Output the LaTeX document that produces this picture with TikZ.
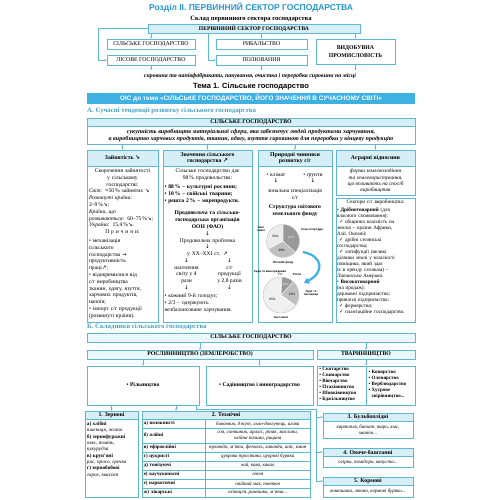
\documentclass[tikz,border=0pt]{standalone}
\usepackage{fontspec}
\setmainfont{Liberation Serif}
\setsansfont{Liberation Sans}
\newfontfamily\sym{DejaVu Sans}
\usetikzlibrary{positioning,arrows.meta}
\definecolor{bord}{RGB}{95,184,210}
\definecolor{hfill}{RGB}{214,239,247}
\definecolor{ttl}{RGB}{38,150,210}
\definecolor{bar}{RGB}{62,176,226}
\definecolor{sect}{RGB}{70,160,190}
\newcommand\tx{\fontsize{5.6}{6.8}\selectfont}
\newcommand\sm{\fontsize{5}{6}\selectfont}
\newcommand\arD{{\sym ↓}}
\newcommand\arSE{{\sym ↘}}
\newcommand\arNE{{\sym ↗}}
\newcommand\arR{{\sym →}}
\newcommand\chk{{\sym ✓}}
\newcommand\bul{\par\hangindent=4pt\hangafter=1\noindent\textbullet\ }
\newcommand\ckl{\par\hangindent=7pt\hangafter=1\noindent\hspace*{2pt}\chk\ }
\tikzset{
  box/.style={draw=bord, line width=0.5pt, inner sep=0pt},
  hd/.style={box, fill=hfill, font=\fontsize{5.8}{6.6}\selectfont\bfseries, align=center},
  rb/.style={box, fill=white, font=\fontsize{5.8}{6.4}\selectfont, minimum width=88pt, minimum height=10pt},
  arr/.style={draw=bord, line width=0.5pt, -{Stealth[length=2.2pt,width=2pt]}},
  txt/.style={inner sep=0.5pt, font=\tx, align=left},
  pct/.style={inner sep=0pt, font=\sffamily\fontsize{3.2}{3.6}\selectfont},
  plab/.style={inner sep=0pt, font=\sffamily\bfseries\fontsize{2.9}{3.3}\selectfont, align=center},
}
\begin{document}
\begin{tikzpicture}[x=1pt,y=-1pt]
\useasboundingbox[fill=white] (0,0) rectangle (500,500);
% склад первинного сектора
\node[font=\sffamily\bfseries\fontsize{8.5}{9}\selectfont, text=ttl] (ttl) at (251,8) {Розділ II. ПЕРВИННИЙ СЕКТОР ГОСПОДАРСТВА};
\node[font=\bfseries\fontsize{6.6}{7}\selectfont] (sklad) at (251,19) {Склад первинного сектора господарства};
\node[hd, font=\bfseries\fontsize{5.6}{6}\selectfont, minimum width=212pt, minimum height=9pt] (psg) at (254,28.5) {ПЕРВИННИЙ СЕКТОР ГОСПОДАРСТВА};
\node[rb] (sg) at (151,44) {СІЛЬСЬКЕ ГОСПОДАРСТВО};
\node[rb, minimum width=91pt] (ryb) at (261.5,44) {РИБАЛЬСТВО};
\node[rb, minimum width=79pt, minimum height=25pt, font=\bfseries\fontsize{5.8}{7.4}\selectfont, align=center] (vyd) at (355.5,51.5) {ВИДОБУВНА\\ПРОМИСЛОВІСТЬ};
\node[rb] (lis) at (151,60) {ЛІСОВЕ ГОСПОДАРСТВО};
\node[rb, minimum width=91pt] (pol) at (261.5,60) {ПОЛЮВАННЯ};
\draw[arr] (psg.south -| sg.north) -- (sg.north);
\draw[arr] (psg.south -| ryb.north) -- (ryb.north);
\draw[arr] (psg.south -| vyd.north) -- (vyd.north);
\draw[arr] (psg.west) -- ++(-50,0) |- (lis.west);
\draw[arr] ([xshift=-46pt]psg.south) |- (pol.west);
\node[font=\bfseries\itshape\fontsize{5.9}{6}\selectfont] (raw) at (250,76.5) {сировина та напівфабрикати, пакування, очистка і переробка сировини на місці};
\draw[arr] (lis.south) -- (lis.south |- raw.north);
\draw[arr] (pol.south) -- (pol.south |- raw.north);
\draw[arr] (vyd.south) -- (vyd.south |- raw.north);
\node[font=\sffamily\bfseries\fontsize{7.5}{8}\selectfont] (tema) at (251,86.5) {Тема 1. Сільське господарство};
\node[fill=bar, minimum width=328pt, minimum height=11pt, inner sep=0pt, text=white, font=\sffamily\bfseries\fontsize{6.4}{7}\selectfont] (ois) at (251,98.5) {ОІС до теми «СІЛЬСЬКЕ ГОСПОДАРСТВО, ЙОГО ЗНАЧЕННЯ В СУЧАСНОМУ СВІТІ»};
% А. тенденції
\node[anchor=west, inner sep=0pt, text=sect, font=\bfseries\fontsize{6.8}{7}\selectfont] (secA) at (87,111) {А. Сучасні тенденції розвитку сільського господарства};
\node[hd, minimum width=328pt, minimum height=8pt] (sgA) at (251,122) {СІЛЬСЬКЕ ГОСПОДАРСТВО};
\node[box, minimum width=328pt, minimum height=18pt, anchor=north, font=\bfseries\itshape\fontsize{6.1}{7.2}\selectfont, align=center] (def) at (sgA.south) {сукупність виробництв матеріальної сфери, яка забезпечує людей продуктами харчування,\\а виробництво харчових продуктів, тканин, одягу, взуття сировиною для переробки у кінцеву продукцію};
\node[hd, minimum width=71pt, minimum height=16pt] (c1h) at (122.5,158) {Зайнятість \arSE};
\node[hd, minimum width=89pt, minimum height=16pt] (c2h) at (207.5,158) {Значення сільського\\господарства \arNE};
\node[hd, minimum width=74pt, minimum height=16pt] (c3h) at (295,158) {Природні чинники\\розвитку с/г};
\node[hd, minimum width=79pt, minimum height=16pt] (c4h) at (375.5,158) {Аграрні відносини};
\foreach \c in {c1h,c2h,c3h,c4h}
  \draw[arr] (def.south -| \c.north) -- (\c.north);
\node[box, minimum width=71pt, minimum height=156pt, anchor=north] (c1b) at (c1h.south) {};
\node[box, minimum width=89pt, minimum height=156pt, anchor=north] (c2b) at (c2h.south) {};
\node[box, minimum width=74pt, minimum height=156pt, anchor=north] (c3b) at (c3h.south) {};
\node[box, minimum width=79pt, minimum height=29pt, anchor=north, font=\itshape\fontsize{5.4}{6.4}\selectfont, align=center] (c4d) at (c4h.south) {форми землеволодіння\\та землекористування,\\що впливають на спосіб\\виробництва};
\node[box, minimum width=79pt, minimum height=124pt, anchor=north] (c4b) at ([yshift=-2pt]c4d.south) {};
% зайнятість
\node[txt, text width=67pt, align=center, anchor=north] (c1x1) at ([yshift=-2pt]c1b.north) {Скорочення зайнятості\\у сільському\\господарстві:};
\node[txt, text width=67pt, below=0pt of c1x1] (c1x2) {\textit{Світ:} ≈50\,\% зайнятих \arSE\\\textit{Розвинуті країни:}\\2–9\,\%\arSE;\\\textit{Країни, що}\\\textit{розвиваються:} 60–75\,\%\arSE;\\\textit{Україна:} 15,4\,\%\arSE.};
\node[txt, text width=67pt, align=center, below=0pt of c1x2] (c1x3) {П р и ч и н и:};
\node[txt, text width=67pt, below=0pt of c1x3] (c1x4) {\bul механізація\\сільського\\господарства \arR\\продуктивність\\праці\arNE;\bul відокремилися від\\с/г виробництва\\тканин, одягу, взуття,\\харчових продуктів,\\напоїв;\bul імпорт с/г продукції\\(розвинуті країни).};
% значення
\node[txt, text width=86pt, align=center, anchor=north] (c2x1) at ([yshift=-2pt]c2b.north) {Сільське господарство дає\\98\,\% продовольства:};
\node[txt, text width=86pt, below=0pt of c2x1, font=\tx\bfseries] (c2x2) {\bul 88\,\% – культурні рослини;\bul 10\,\% – свійські тварини;\bul решта 2\,\% – морепродукти.};
\node[txt, text width=86pt, align=center, below=6pt of c2x2, font=\tx\bfseries] (c2x3) {Продовольча та сільсько-\\господарська організація\\ООН (ФАО)};
\node[txt, text width=86pt, align=center, below=0pt of c2x3] (c2x4) {\arD\\Продовольча проблема\\\arD\\у XX–XXI ст. \arNE};
\node[txt, align=center, anchor=north] (c2x5) at ([xshift=-21pt]c2x4.south) {\arD\\населення\\світу у 4\\рази\\\arD};
\node[txt, align=center, anchor=north] (c2x6) at ([xshift=22pt]c2x4.south) {\arD\\с/г\\продукції\\у 2,8 разів\\\arD};
\node[txt, text width=86pt, anchor=north] (c2x7) at (c2x4.south |- c2x5.south) {\bul кожний 9-й голодує;\bul 2/3 – одержують\\незбалансоване харчування.};
% природні чинники
\node[txt] (kl) at (276,175) {\textbullet\ клімат};
\node[txt] (gr) at (313,175) {\textbullet\ ґрунти};
\node[txt, below=0pt of kl] (kla) {\arD};
\node[txt, below=0pt of gr] (gra) {\arD};
\node[txt, align=center] (zon) at (295,194) {зональна спеціалізація\\с/г};
\node[txt, align=center, font=\tx\bfseries] (str) at (295,211) {Структура світового\\земельного фонду};
\begin{scope}[shift={(283,241)}, y=1pt]
  \fill[gray!80, draw=white, line width=0.3pt] (0,0) -- (90:16.5) arc[start angle=90, end angle=-43.2, radius=16.5] -- cycle;
  \fill[gray!50, draw=white, line width=0.3pt] (0,0) -- (-43.2:16.5) arc[start angle=-43.2, end angle=-151.2, radius=16.5] -- cycle;
  \fill[gray!15, draw=white, line width=0.3pt] (0,0) -- (-151.2:16.5) arc[start angle=-151.2, end angle=-270, radius=16.5] -- cycle;
  \draw[gray!60, line width=0.3pt] (0,0) circle (16.5);
  \node[pct, text=white] (p1a) at (23.4:9) {37\%};
  \node[pct] (p1b) at (-97.2:9.5) {30\%};
  \node[pct] (p1c) at (149.4:9) {33\%};
  \node[plab] (l1a) at (-22,12) {Інші\\землі};
  \node[plab] (l1b) at (29,11) {Сільгоспугіддя};
  \node[plab] (l1c) at (0,-21.5) {Лісовий фонд};
  \coordinate (pa) at (20,-11);
\end{scope}
\begin{scope}[shift={(281,295)}, y=1pt]
  \fill[gray!30, draw=white, line width=0.3pt] (0,0) -- (90:18) arc[start angle=90, end angle=86.4, radius=18] -- cycle;
  \fill[gray!80, draw=white, line width=0.3pt] (0,0) -- (86.4:18) arc[start angle=86.4, end angle=46.8, radius=18] -- cycle;
  \fill[gray!50, draw=white, line width=0.3pt] (0,0) -- (46.8:18) arc[start angle=46.8, end angle=-36, radius=18] -- cycle;
  \fill[gray!12, draw=white, line width=0.3pt] (0,0) -- (-36:18) arc[start angle=-36, end angle=-270, radius=18] -- cycle;
  \draw[gray!60, line width=0.3pt] (0,0) circle (18);
  \node[pct, text=white] (p2a) at (66:11.5) {11\%};
  \node[pct] (p2b) at (5:11) {23\%};
  \node[pct] (p2c) at (-153:9.5) {65\%};
  \node[pct] (p2d) at (92:21) {1\%};
  \node[plab] (l2a) at (-11,23) {Сади та виноградники};
  \node[plab] (l2b) at (16,21) {Рілля};
  \node[plab] (l2c) at (30,2) {Луки та\\пасовища};
  \node[plab] (l2d) at (0,-22) {Інші землі};
  \coordinate (pb) at (23,12);
\end{scope}
\draw[line width=2.2pt, bar, -{Triangle[length=5pt,width=6.5pt]}] (pa) .. controls (323,256) and (325,272) .. (pb);
% аграрні відносини
\node[txt, text width=77pt, align=center, anchor=north, font=\fontsize{5.2}{6}\selectfont] (c4x1) at ([yshift=-1.2pt]c4b.north) {Сектори с/г виробництва:};
\node[txt, text width=77pt, below=0pt of c4x1, font=\fontsize{5.2}{6}\selectfont] (c4x2) {\bul \textbf{Дрібнотоварний} (для\\власного споживання):\ckl общинна власність на\\землю – країни Африки,\\Азії, Океанії;\ckl дрібні селянські\\господарства;\ckl латифундії (великі\\ділянки землі у власності\\поміщика, який здає\\їх в оренду селянам) –\\\textit{Латинська Америка.}\bul \textbf{Високотоварний}\\(на продаж):\par\noindent державні підприємства;\\приватні підприємства:\ckl фермерство;\ckl плантаційне господарство.};
% Б. складники
\node[anchor=west, inner sep=0pt, text=sect, font=\bfseries\fontsize{6.8}{7}\selectfont] (secB) at (87,327) {Б. Складники сільського господарства};
\node[hd, fill=hfill!50, minimum width=328pt, minimum height=9pt] (sgB) at (251,337.5) {СІЛЬСЬКЕ ГОСПОДАРСТВО};
\node[hd, fill=hfill!50, minimum width=226pt, minimum height=9pt] (rosl) at (200,354.5) {РОСЛИННИЦТВО (ЗЕМЛЕРОБСТВО)};
\node[hd, fill=hfill!50, minimum width=98pt, minimum height=9pt] (tvar) at (366,354.5) {ТВАРИННИЦТВО};
\draw[arr] (sgB.south -| rosl.north) -- (rosl.north);
\draw[arr] (sgB.south -| tvar.north) -- (tvar.north);
\node[box, minimum width=112pt, minimum height=39pt, font=\tx\bfseries] (ril) at (143,385.5) {\textbullet\ Рільництво};
\node[box, minimum width=107pt, minimum height=39pt, font=\tx\bfseries] (sad) at (259.5,385.5) {\textbullet\ Садівництво і виноградарство};
\node[box, minimum width=98pt, minimum height=39pt] (tvb) at (366,385.5) {};
\draw[bord, line width=0.5pt] (tvb.north) -- (tvb.south);
\node[txt, anchor=north west, font=\fontsize{5}{6}\selectfont\bfseries] (tvl1) at ([xshift=2pt,yshift=-1.2pt]tvb.north west) {\textbullet\ Скотарство\\\textbullet\ Свинарство\\\textbullet\ Вівчарство\\\textbullet\ Птахівництво\\\textbullet\ Шовківництво\\\textbullet\ Бджільництво};
\node[txt, anchor=north west, font=\fontsize{5}{6}\selectfont\bfseries] (tvl2) at ([xshift=2pt,yshift=-4pt]tvb.north) {\textbullet\ Конярство\\\textbullet\ Оленярство\\\textbullet\ Верблюдарство\\\textbullet\ Хутрове\\\phantom{\textbullet\ }звірівництво...};
\draw[arr] (rosl.south -| ril.north) -- (ril.north);
\draw[arr] (rosl.south -| sad.north) -- (sad.north);
\draw[arr] (tvar.south) -- (tvb.north);
% групи культур
\node[hd, minimum width=53pt, minimum height=8pt] (zh) at (111.5,415) {1. Зернові};
\node[box, minimum width=53pt, minimum height=78pt, anchor=north] (zb) at (zh.south) {};
\node[txt, anchor=north west, font=\fontsize{5.2}{6.3}\selectfont] (zx) at ([xshift=1.5pt,yshift=-2pt]zb.north west) {\textbf{а) хлібні}\\\textit{пшениця, жито}\\\textbf{б) зернофуражні}\\\textit{овес, ячмінь,}\\\textit{кукурудза}\\\textbf{в) круп'яні}\\\textit{рис, просо, гречка}\\\textbf{г) зернобобові}\\\textit{горох, квасоля}};
\node[hd, minimum width=168pt, minimum height=8pt] (th) at (226,415) {2. Технічні};
\foreach \i/\ya/\h/\lt/\rt in {
  1/419/9/а) волокнисті/{бавовник, джут, льон-довгунець, агава},
  2/428/14.5/б) олійні/{соя, соняшник, арахіс, ріпак, маслини,\\олійна пальма, рицина},
  3/442.5/9.1/в) ефіроолійні/{троянда, м'ята, фенхель, лаванда, аніс, кмин},
  4/451.6/9.1/г) цукристі/{цукрова тростина, цукрові буряки},
  5/460.7/9.1/д) тонізуючі/{чай, кава, какао},
  6/469.8/9.1/е) каучуконосні/{гевея},
  7/478.9/9.1/є) наркотичні/{опійний мак, тютюн},
  8/488/9/ж) лікарські/{ехінацея, ромашка, м'ята...}} {
  \node[box, anchor=north west, minimum width=63pt, minimum height=\h pt, text width=60pt, align=left, font=\sm\bfseries] (tl\i) at (142,\ya) {\lt};
  \node[box, anchor=north west, minimum width=105pt, minimum height=\h pt, align=center, font=\sm\itshape] (tr\i) at (205,\ya) {\rt};
}
\draw[arr] (ril.south -| zh.north) -- (zh.north);
\draw[arr] ([xshift=33pt]ril.south) -- ([xshift=33pt]ril.south |- th.north);
\node[hd, minimum width=90pt, minimum height=8pt] (b3h) at (368,417) {3. Бульбоплідні};
\node[box, minimum width=90pt, minimum height=17pt, anchor=north, font=\sm\itshape, align=center] (b3b) at (b3h.south) {картопля, батат, таро, ямс,\\маніок...};
\node[hd, minimum width=90pt, minimum height=8pt] (b4h) at (368,452) {4. Овоче-баштанні};
\node[box, minimum width=90pt, minimum height=11pt, anchor=north, font=\sm\itshape, align=center] (b4b) at (b4h.south) {огірки, помідори, капуста...};
\node[hd, minimum width=90pt, minimum height=8pt] (b5h) at (368,481) {5. Кормові};
\node[box, minimum width=90pt, minimum height=12pt, anchor=north, font=\sm\itshape, align=center] (b5b) at (b5h.south) {конюшина, люпин, кормові буряки...};
\coordinate (jn) at (316,409);
\draw[bord, line width=0.5pt] ([xshift=-3pt]ril.south east) |- (jn);
\draw[arr] (jn) |- (b3h.west);
\draw[arr] (jn) |- (b4h.west);
\draw[arr] (jn) |- (b5h.west);
\end{tikzpicture}
\end{document}
